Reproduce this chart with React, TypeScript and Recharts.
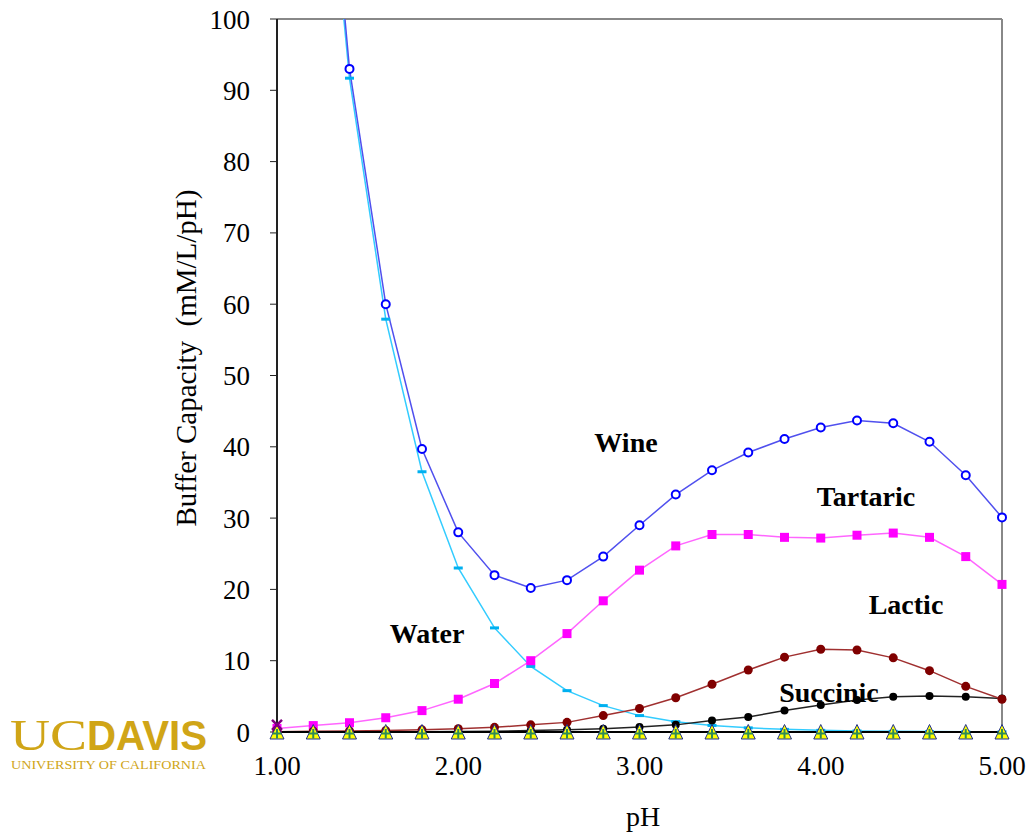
import React from 'react';
import { LineChart, Line, XAxis, YAxis, ReferenceLine } from 'recharts';

const pHValues = [1.0, 1.2, 1.4, 1.6, 1.8, 2.0, 2.2, 2.4, 2.6, 2.8, 3.0, 3.2, 3.4, 3.6, 3.8, 4.0, 4.2, 4.4, 4.6, 4.8, 5.0];
const wine = [240, 149, 93, 60, 39.7, 28.0, 22.0, 20.2, 21.3, 24.6, 29.0, 33.3, 36.7, 39.2, 41.1, 42.7, 43.7, 43.3, 40.7, 36.0, 30.1];
const water = [230, 145, 91.7, 57.9, 36.5, 23.0, 14.6, 9.2, 5.8, 3.7, 2.3, 1.45, 0.92, 0.58, 0.37, 0.23, 0.15, 0.09, 0.06, 0.04, 0.02];
const tartaric = [0.5, 0.9, 1.3, 2.0, 3.0, 4.6, 6.8, 10.0, 13.8, 18.4, 22.7, 26.1, 27.7, 27.7, 27.3, 27.2, 27.6, 27.9, 27.3, 24.6, 20.7];
const lactic = [0.05, 0.1, 0.15, 0.2, 0.3, 0.45, 0.65, 1.0, 1.35, 2.3, 3.3, 4.8, 6.7, 8.7, 10.5, 11.6, 11.5, 10.4, 8.6, 6.4, 4.6];
const succinic = [0, 0.01, 0.02, 0.03, 0.05, 0.08, 0.12, 0.2, 0.3, 0.45, 0.7, 1.0, 1.6, 2.1, 3.0, 3.8, 4.5, 4.95, 5.05, 4.95, 4.7];
const other = [0, 0, 0, 0, 0, 0, 0, 0, 0, 0, 0, 0, 0, 0, 0, 0, 0, 0, 0, 0, 0];
const marker = [1.0, null, null, null, null, null, null, null, null, null, null, null, null, null, null, null, null, null, null, null, null];

const xTicks = [1, 2, 3, 4, 5];
const yTicks = [0, 10, 20, 30, 40, 50, 60, 70, 80, 90, 100];

const data = pHValues.map((p, i) => ({
  pH: p,
  wine: wine[i],
  water: water[i],
  tartaric: tartaric[i],
  lactic: lactic[i],
  succinic: succinic[i],
  other: other[i],
  marker: marker[i],
}));

const FONT = '"Liberation Serif", "Times New Roman", serif';

const ok = (p: any) => p && p.cx != null && p.cy != null && !isNaN(p.cx) && !isNaN(p.cy);

const WineDot = (p: any) => {
  if (!ok(p)) return <g key={p.key || p.index} />;
  return <circle key={p.key || p.index} cx={p.cx} cy={p.cy} r={4} fill="#ffffff" stroke="#0000ff" strokeWidth={2} />;
};
const WaterDot = (p: any) => {
  if (!ok(p)) return <g key={p.key || p.index} />;
  return <rect key={p.key || p.index} x={p.cx - 4.5} y={p.cy - 1.5} width={9} height={3} fill="#00b0f0" />;
};
const SquareDot = (p: any) => {
  if (!ok(p)) return <g key={p.key || p.index} />;
  return <rect key={p.key || p.index} x={p.cx - 4.5} y={p.cy - 4.5} width={9} height={9} fill="#ff00ff" />;
};
const LacticDot = (p: any) => {
  if (!ok(p)) return <g key={p.key || p.index} />;
  return <circle key={p.key || p.index} cx={p.cx} cy={p.cy} r={4.5} fill="#800000" />;
};
const SuccDot = (p: any) => {
  if (!ok(p)) return <g key={p.key || p.index} />;
  return <circle key={p.key || p.index} cx={p.cx} cy={p.cy} r={4} fill="#000000" />;
};
const TriDot = (p: any) => {
  if (!ok(p)) return <g key={p.key || p.index} />;
  const { cx, cy } = p;
  return (
    <g key={p.key || p.index}>
      <polygon points={`${cx},${cy - 7.5} ${cx - 7},${cy + 7} ${cx + 7},${cy + 7}`} fill="#ffff00" stroke="#1f2f8f" strokeWidth={1} />
      <line x1={cx} y1={cy - 3} x2={cx} y2={cy + 6.5} stroke="#2e8b57" strokeWidth={2} />
      <line x1={cx - 4.5} x2={cx + 4.5} y1={cy + 1.5} y2={cy + 1.5} stroke="#2e8b57" strokeWidth={2} />
    </g>
  );
};
const XDot = (p: any) => {
  if (!ok(p)) return <g key={p.key || p.index} />;
  const { cx, cy } = p;
  return (
    <g key={p.key || p.index}>
      <line x1={cx - 5} y1={cy - 5} x2={cx + 5} y2={cy + 5} stroke="#800080" strokeWidth={2.5} />
      <line x1={cx - 5} y1={cy + 5} x2={cx + 5} y2={cy - 5} stroke="#800080" strokeWidth={2.5} />
    </g>
  );
};

const tickStyle = { fontFamily: FONT, fontSize: 27 };

const XTick = (p: any) => {
  const { x, y, payload } = p;
  return (
    <text x={x} y={y} dy="0.71em" textAnchor="middle" style={tickStyle} fill="#000000">
      {Number(payload.value).toFixed(2)}
    </text>
  );
};
const YTick = (p: any) => {
  const { x, y, payload } = p;
  return (
    <text x={x} y={y} dy="0.355em" textAnchor="end" style={tickStyle} fill="#000000">
      {payload.value}
    </text>
  );
};

const seriesLabels = [
  { text: 'Wine', x: 626, y: 442 },
  { text: 'Tartaric', x: 866, y: 496 },
  { text: 'Lactic', x: 906, y: 604 },
  { text: 'Water', x: 427, y: 633 },
  { text: 'Succinic', x: 829, y: 692 },
];

export default function App() {
  return (
    <div style={{ position: 'absolute', left: 0, top: 0, width: 1032, height: 835, background: '#ffffff', fontFamily: FONT }}>
      <LineChart
        width={1032}
        height={835}
        data={data}
        margin={{ top: 19, right: 30, left: 0, bottom: 43 }}
        style={{ fontFamily: FONT }}
      >
        <XAxis
          type="number"
          dataKey="pH"
          domain={[1, 5]}
          ticks={xTicks}
          height={60}
          axisLine={{ stroke: '#000000', strokeWidth: 2 }}
          tickLine={{ stroke: '#000000', strokeWidth: 1 }}
          tickSize={6}
          tickMargin={18}
          tick={XTick}
        />
        <YAxis
          yAxisId="main"
          orientation="left"
          type="number"
          domain={[0, 100]}
          ticks={yTicks}
          width={277}
          axisLine={{ stroke: '#222222', strokeWidth: 2 }}
          tickLine={{ stroke: '#222222', strokeWidth: 1 }}
          tickSize={7}
          tickMargin={20}
          tick={YTick}
          allowDataOverflow
        />
        <YAxis yAxisId="free" orientation="right" type="number" domain={[0, 100]} width={0} hide />
        <ReferenceLine yAxisId="main" y={100} stroke="#888888" strokeWidth={2} />
        <ReferenceLine yAxisId="main" x={5} stroke="#888888" strokeWidth={2} />
        <Line yAxisId="main" dataKey="water" stroke="#33ccff" strokeWidth={1.5} dot={WaterDot} isAnimationActive={false} />
        <Line yAxisId="main" dataKey="wine" stroke="#5050ee" strokeWidth={1.5} dot={WineDot} isAnimationActive={false} />
        <Line yAxisId="free" dataKey="tartaric" stroke="#ff66ff" strokeWidth={1.5} dot={SquareDot} isAnimationActive={false} />
        <Line yAxisId="free" dataKey="succinic" stroke="#222222" strokeWidth={1.5} dot={SuccDot} isAnimationActive={false} />
        <Line yAxisId="free" dataKey="lactic" stroke="#a03030" strokeWidth={1.5} dot={LacticDot} isAnimationActive={false} />
        <Line yAxisId="free" dataKey="other" stroke="#000000" strokeWidth={1.5} dot={TriDot} isAnimationActive={false} />
        <Line yAxisId="free" dataKey="marker" stroke="none" dot={XDot} isAnimationActive={false} />
      </LineChart>
      <svg width={1032} height={835} style={{ position: 'absolute', left: 0, top: 0, pointerEvents: 'none' }}>
        {seriesLabels.map((l) => (
          <text key={l.text} x={l.x} y={l.y} textAnchor="middle" dominantBaseline="central" fontFamily={FONT} fontWeight="bold" fontSize={28} fill="#000000">
            {l.text}
          </text>
        ))}
        <text x={643} y={816} textAnchor="middle" dominantBaseline="central" fontFamily={FONT} fontSize={28} fill="#000000">pH</text>
        <text
          x={186}
          y={358}
          textAnchor="middle"
          dominantBaseline="central"
          fontFamily={FONT}
          fontSize={29}
          fill="#000000"
          transform="rotate(-90 186 358)"
          style={{ whiteSpace: 'pre' }}
        >
          {'Buffer Capacity  (mM/L/pH)'}
        </text>
        <text x={10} y={750} fontFamily={FONT} fontSize={44} fill="#d0a517" textLength={77} lengthAdjust="spacingAndGlyphs">UC</text>
        <text x={87} y={750} fontFamily={'"Liberation Sans", Arial, sans-serif'} fontWeight="bold" fontSize={43} fill="#d0a517" textLength={120} lengthAdjust="spacingAndGlyphs">DAVIS</text>
        <text x={11} y={769} fontFamily={FONT} fontSize={12.5} fill="#d0a517" textLength={195} lengthAdjust="spacingAndGlyphs">UNIVERSITY OF CALIFORNIA</text>
      </svg>
    </div>
  );
}
